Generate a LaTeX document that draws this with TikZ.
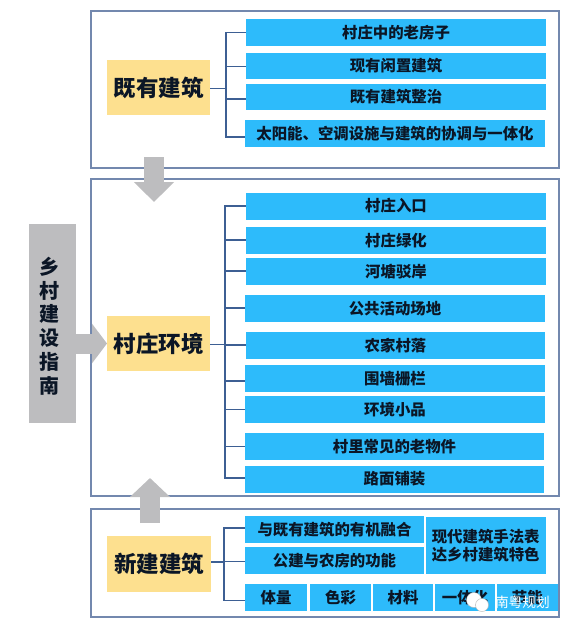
\documentclass[tikz,border=0pt]{standalone}
\usepackage{fontspec}
\setmainfont{Noto Sans CJK SC}
\usepackage{xcolor}
\usetikzlibrary{arrows.meta,positioning}
\definecolor{itemblue}{HTML}{2DBBFB}
\definecolor{headyellow}{HTML}{FDE08F}
\definecolor{arrowgray}{HTML}{BDBDBF}
\definecolor{framegray}{HTML}{7388AE}
\definecolor{linkblue}{HTML}{3D5F93}
\definecolor{inkdark}{HTML}{0B1626}
\begin{document}
\begin{tikzpicture}[
    x=1pt, y=1pt,
    font=\bfseries, text=inkdark, inner sep=0pt, outer sep=0pt,
    frame/.style={draw=framegray, line width=1.3pt, minimum width=468pt, anchor=north west},
    item/.style={fill=itemblue, minimum width=#1, minimum height=27pt, anchor=north west, font=\fontsize{15.4}{18}\selectfont\bfseries, align=center},
    item/.default=300pt,
    head/.style={fill=headyellow, minimum width=103pt, minimum height=55pt, anchor=north west, font=\fontsize{22.5}{26}\selectfont\bfseries},
    link/.style={draw=linkblue, line width=1.5pt},
    bigarr/.style={draw=arrowgray, line width=20pt, -{Triangle[length=#1, width=39pt]}},
    blob/.style={circle, fill=white, draw=black!30, line width=0.4pt}
  ]
  \useasboundingbox (0,0) rectangle (568,-627);
  % frames
  \node[frame, minimum height=157pt] (frameold) at (91,-11) {};
  \node[frame, minimum height=317pt, below=11pt of frameold.south west, anchor=north west] (framevillage) {};
  \node[frame, minimum height=108pt, below=13pt of framevillage.south west, anchor=north west] (framenew) {};
  % left column
  \node[fill=arrowgray, minimum width=47pt, minimum height=199pt, anchor=north west] (guide) at (29,-224) {};
  \node[align=center, font=\fontsize{20}{23.7}\selectfont\bfseries] (guidetext) at (49,-326) {乡\\村\\建\\设\\指\\南};
  \node[head] (oldbuild) at (107,-60) {既有建筑};
  \node[head] (village) at (107,-316) {村庄环境};
  \node[head, minimum width=104pt, minimum height=56pt] (newbuild) at (107,-536) {新建建筑};
  % existing buildings
  \node[item] (oldhouse) at (246,-19) {村庄中的老房子};
  \node[item, minimum height=26pt, below=6.7pt of oldhouse.south west, anchor=north west] (idle) {现有闲置建筑};
  \node[item, minimum height=26pt, below=5pt of idle.south west, anchor=north west] (renovate) {既有建筑整治};
  \node[item, below=10pt of renovate.south west, anchor=north west, xshift=-1pt] (solar) {太阳能、空调设施与建筑的协调与一体化};
  % village environment
  \node[item] (entrance) at (246,-192.5) {村庄入口};
  \node[item, below=7.2pt of entrance.south west, anchor=north west] (green) {村庄绿化};
  \node[item, below=4pt of green.south west, anchor=north west] (bank) {河塘驳岸};
  \node[item, below=10pt of bank.south west, anchor=north west, xshift=-1pt] (square) {公共活动场地};
  \node[item, minimum width=299pt, below=10pt of square.south west, anchor=north west, xshift=1pt] (farm) {农家村落};
  \node[item, below=6.3pt of farm.south west, anchor=north west, xshift=-1pt] (fence) {围墙栅栏};
  \node[item, below=4pt of fence.south west, anchor=north west] (sketch) {环境小品};
  \node[item=299pt, below=10pt of sketch.south west, anchor=north west] (oldthing) {村里常见的老物件};
  \node[item=299pt, below=5.5pt of oldthing.south west, anchor=north west] (paving) {路面铺装};
  % new buildings
  \node[item=179pt] (blend) at (245,-516) {与既有建筑的有机融合};
  \node[item=179pt, below=4pt of blend.south west, anchor=north west] (function) {公建与农房的功能};
  \node[item=120pt, minimum height=57pt] (modern) at (425.7,-517) {现代建筑手法表\\达乡村建筑特色};
  \node[item=62pt] (volume) at (245,-584) {体量};
  \node[item=61pt, right=3pt of volume.north east, anchor=north west] (colour) {色彩};
  \node[item=60pt, right=2pt of colour.north east, anchor=north west] (material) {材料};
  \node[item=60pt, right=2pt of material.north east, anchor=north west] (unity) {一体化};
  \node[item=60.5pt, right=2pt of unity.north east, anchor=north west] (saving) {节能};
  % connectors
  \draw[link] ([yshift=-1pt]oldbuild.east) -- ++(16,0) coordinate (joldbuild);
  \foreach \name/\dy in {oldhouse/0, idle/-1, renovate/-2.5, solar/-3.7}
    \draw[link] (joldbuild) |- ([yshift=\dy pt]\name.west);
  \draw[link] ([yshift=-1pt]village.east) -- ++(15,0) coordinate (jvillage);
  \foreach \name/\dy in {entrance/0, green/0, bank/0, square/0, farm/0, fence/-2.5, sketch/0, oldthing/0, paving/1}
    \draw[link] (jvillage) |- ([yshift=\dy pt]\name.west);
  \draw[link] ([yshift=2pt]newbuild.east) -- ++(13,0) coordinate (jnewbuild);
  \foreach \name/\dy in {blend/1.5, function/-1, volume/-3}
    \draw[link] (jnewbuild) |- ([yshift=\dy pt]\name.west);
  % big arrows
  \coordinate (downfrom) at (154,-157);
  \coordinate (downto) at (154,-202);
  \coordinate (upfrom) at (150,-523);
  \coordinate (upto) at (150,-478);
  \draw[bigarr=20pt] (downfrom) -- (downto);
  \draw[bigarr=19pt] (upfrom) -- (upto);
  \draw[bigarr=15pt] (guide.east |- village.west) -- (village.west);
  % watermark
  \node[blob, minimum size=15pt] (chatback) at (474,-600) {};
  \node[blob, minimum size=13pt] (chatfront) at (482,-605) {};
  \node[text=white, font=\fontsize{13.7}{16}\selectfont, anchor=west] (mark) at (495,-602) {南粤规划};
\end{tikzpicture}
\end{document}
